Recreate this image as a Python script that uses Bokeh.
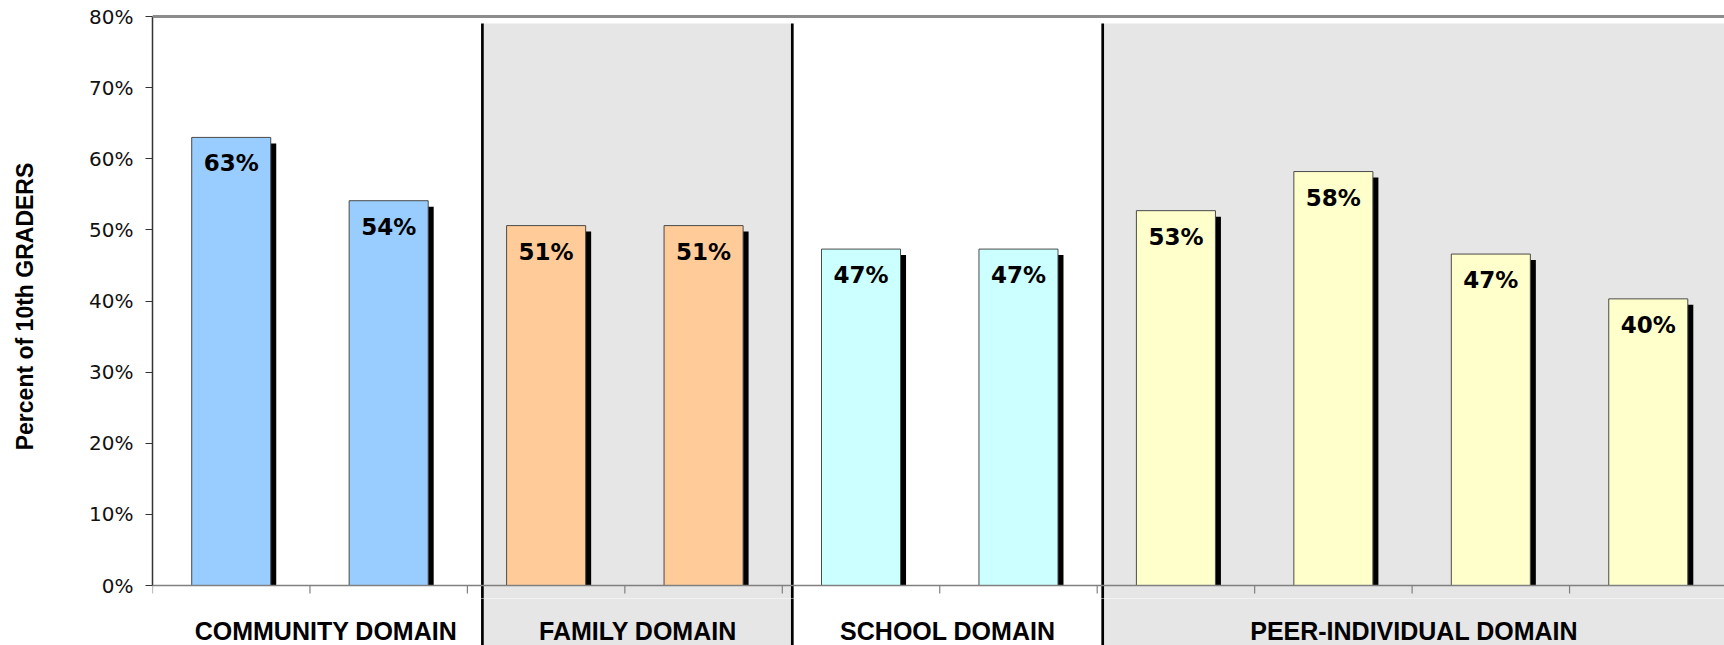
from bokeh.plotting import figure
from bokeh.layouts import column
from bokeh.models import Range1d, FixedTicker, PrintfTickFormatter, ColumnDataSource, Span
from bokeh.core.properties import value
from bokeh.embed import file_html
from bokeh.resources import INLINE

# ---------------- data ----------------
domains = ["COMMUNITY DOMAIN", "FAMILY DOMAIN", "SCHOOL DOMAIN", "PEER-INDIVIDUAL DOMAIN"]
domain_sizes = [2, 2, 2, 4]
domain_colors = ["#99CCFF", "#FFCC99", "#CCFFFF", "#FFFFCC"]
values = [63.0, 54.1, 50.6, 50.6, 47.3, 47.3, 52.7, 58.2, 46.6, 40.3]
labels = ["63%", "54%", "51%", "51%", "47%", "47%", "53%", "58%", "47%", "40%"]
y_ticks = [0, 10, 20, 30, 40, 50, 60, 70, 80]
shaded_domains = [False, True, False, True]
y_title = "Percent of 10th GRADERS"

# ---------------- layout constants ----------------
W, H = 1724, 645
MAIN_H = 598                 # chart body; the domain-label strip sits below
STRIP_H = H - MAIN_H
BORDER_LEFT, BORDER_TOP = 152, 14
CAT_PX = 157.45              # pixels per category
PCT_PX = 7.1125              # pixels per percent
x_end = (W - BORDER_LEFT) / CAT_PX
y_end = 80 + 2 / PCT_PX
y_start = y_end - (MAIN_H - BORDER_TOP) / PCT_PX
strip_top = y_start
strip_bottom = strip_top - STRIP_H / PCT_PX
sep_nudge_px = [15, 10, 5.5]        # separators sit slightly right of the boundary
label_nudge_px = [16, 13, 8, 2]     # group labels likewise
shade_top = 79.0

n = len(values)
xs = [i + 0.5 for i in range(n)]
bar_colors = []
for c, s in zip(domain_colors, domain_sizes):
    bar_colors += [c] * s

bounds = [0]
for s in domain_sizes:
    bounds.append(bounds[-1] + s)
seps = [bounds[k + 1] + sep_nudge_px[k] / CAT_PX for k in range(len(domains) - 1)]
group_left = [0] + seps
group_right = seps + [n + 1]
group_centers = [(bounds[k] + bounds[k + 1]) / 2 for k in range(len(domains))]
sh_l = [l for l, f in zip(group_left, shaded_domains) if f]
sh_r = [r for r, f in zip(group_right, shaded_domains) if f]
tick_x = list(range(n + 1))

xr = Range1d(0, x_end)


def decorate(fig, top):
    """Shaded panels and separators (shared by both parts)."""
    fig.quad(left=sh_l, right=sh_r, top=top, bottom=strip_bottom - 5,
             fill_color="#E6E6E6", line_color=None)
    fig.segment(x0=seps, x1=seps, y0=[top] * len(seps), y1=[strip_bottom - 5] * len(seps),
                line_color="black", line_width=2.7)


# ---------------- main chart ----------------
p = figure(width=W, height=MAIN_H, output_backend="svg", toolbar_location=None,
           x_range=xr, y_range=Range1d(y_start, y_end),
           x_axis_type=None, min_border_left=BORDER_LEFT, min_border_right=0,
           min_border_top=BORDER_TOP, min_border_bottom=0)
p.outline_line_color = None
p.grid.visible = False
p.background_fill_color = "white"
p.border_fill_color = "white"

decorate(p, shade_top)

bw = 0.502
dx = 5.5 / CAT_PX
dy = 6 / PCT_PX
src = ColumnDataSource(dict(
    x=xs, v=values, lab=labels, color=bar_colors,
    left=[x - bw / 2 for x in xs], right=[x + bw / 2 for x in xs],
    sl=[x - bw / 2 + dx for x in xs], sr=[x + bw / 2 + dx for x in xs],
    st=[v - dy for v in values],
))
p.quad(left="sl", right="sr", top="st", bottom=0, source=src,
       fill_color="black", line_color=None)
p.quad(left="left", right="right", top="v", bottom=0, source=src,
       fill_color="color", line_color="#4a4a4a", line_width=1)

p.text(x="x", y="v", text="lab", source=src, text_align="center",
       text_baseline="alphabetic", y_offset=26,
       text_font=value("DejaVu Sans"), text_font_style="bold",
       text_font_size="23px", text_color="black")

p.add_layout(Span(location=80, dimension="width", line_color="#8c8c8c", line_width=3))
p.add_layout(Span(location=0, dimension="width", line_color="#808080", line_width=1.5))
p.segment(x0=tick_x, x1=tick_x, y0=[0] * len(tick_x), y1=[-8 / PCT_PX] * len(tick_x),
          line_color="#808080", line_width=1.2)

ya = p.yaxis[0]
ya.bounds = (0, 80)
ya.ticker = FixedTicker(ticks=y_ticks)
ya.formatter = PrintfTickFormatter(format="%d%%")
ya.major_tick_in = 0
ya.major_tick_out = 7
ya.minor_tick_line_color = None
ya.axis_line_color = "#333333"
ya.axis_line_width = 1.5
ya.major_tick_line_color = "#333333"
ya.major_label_standoff = 12
ya.major_label_text_font = "DejaVu Sans"
ya.major_label_text_font_size = "20px"
ya.major_label_text_color = "#111111"
ya.axis_label = y_title
ya.axis_label_text_font = "Liberation Sans"
ya.axis_label_text_font_style = "bold"
ya.axis_label_text_font_size = "23px"
ya.axis_label_text_color = "black"
ya.axis_label_standoff = 48

# ---------------- domain-label strip ----------------
s = figure(width=W, height=STRIP_H, output_backend="svg", toolbar_location=None,
           x_range=xr, y_range=Range1d(strip_bottom, strip_top),
           x_axis_type=None, y_axis_type=None, min_border_left=BORDER_LEFT,
           min_border_right=0, min_border_top=0, min_border_bottom=0)
s.outline_line_color = None
s.grid.visible = False
s.background_fill_color = "white"
s.border_fill_color = "white"

decorate(s, strip_top + 5)
s.text(x=[c + nd / CAT_PX for c, nd in zip(group_centers, label_nudge_px)],
       y=[0] * len(domains), text=domains, text_align="center",
       text_baseline="alphabetic", y_offset=45,
       text_font=value("Liberation Sans"), text_font_style="bold",
       text_font_size="25px", text_color="black")

layout = column(p, s, spacing=0)
open("out.html", "w").write(file_html(layout, INLINE))
